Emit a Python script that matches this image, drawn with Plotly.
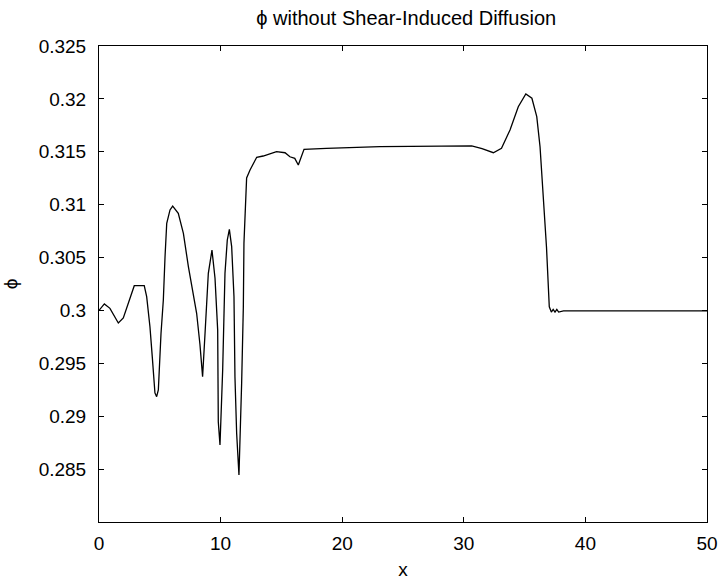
import plotly.graph_objects as go

# Curve
x_vals = [0.0, 0.16, 0.44, 0.9, 1.59, 2.0, 2.41, 2.9, 3.3, 3.72, 3.92, 4.19, 4.38, 4.6, 4.74,
          4.88, 5.1, 5.29, 5.43, 5.57, 5.84, 6.06, 6.52, 6.94, 7.35, 7.76, 8.03, 8.3, 8.52,
          8.72, 8.99, 9.29, 9.54, 9.76, 9.81, 9.95, 10.17, 10.36, 10.55, 10.72, 10.91, 11.1,
          11.18, 11.32, 11.51, 11.73, 11.87, 11.92, 12.09, 12.14, 12.42, 12.97, 13.5, 14.6,
          15.3, 15.7, 16.1, 16.39, 16.86, 18.7, 23.1, 30.65, 31.5, 32.43, 33.1, 33.8, 34.48,
          35.1, 35.6, 36.0, 36.27, 36.54, 36.8, 37.03, 37.2, 37.35, 37.5, 37.65, 37.8, 38.2, 50.0]
phi_vals = [0.3000, 0.30020, 0.30062, 0.30020, 0.29881, 0.29930, 0.30067, 0.30234, 0.30234,
            0.30234, 0.30130, 0.29846, 0.29563, 0.29220, 0.29185, 0.29248, 0.29784, 0.30099,
            0.30508, 0.30824, 0.30950, 0.30987, 0.30918, 0.30729, 0.30414, 0.30162, 0.29973,
            0.29680, 0.29374, 0.29784, 0.30351, 0.30571, 0.30304, 0.29815, 0.28948, 0.28728,
            0.29437, 0.30351, 0.30666, 0.30767, 0.30603, 0.30130, 0.29374, 0.28839, 0.28444,
            0.29311, 0.30035, 0.30635, 0.31107, 0.31252, 0.31328, 0.31448, 0.31460, 0.31501,
            0.31491, 0.31453, 0.31438, 0.31375, 0.31523, 0.31533, 0.31548, 0.31555, 0.31530,
            0.31491, 0.31533, 0.31706, 0.31926, 0.32046, 0.32006, 0.31832, 0.31548, 0.31107,
            0.30600, 0.30035, 0.29985, 0.30010, 0.29985, 0.30010, 0.29985, 0.29995, 0.29995]

x_ticks = [0, 10, 20, 30, 40, 50]
y_ticks = [0.285, 0.29, 0.295, 0.3, 0.305, 0.31, 0.315, 0.32, 0.325]
y_tick_labels = ["0.285", "0.29", "0.295", "0.3", "0.305", "0.31", "0.315", "0.32", "0.325"]

fig = go.Figure()
fig.add_trace(go.Scatter(x=x_vals, y=phi_vals, mode="lines",
                         line=dict(color="black", width=1.3), showlegend=False))

font_family = "Liberation Sans, Arial, sans-serif"
fig.update_layout(
    width=719, height=580,
    margin=dict(l=99, r=12, t=46, b=58),
    paper_bgcolor="white", plot_bgcolor="white",
    font=dict(family=font_family, color="black", size=19),
    title=dict(text="ϕ without Shear-Induced Diffusion", x=0.565, xanchor="center",
               y=1 - 18 / 580, yanchor="middle", font=dict(size=20, family=font_family)),
)
fig.update_xaxes(range=[0, 50], tickvals=x_ticks, ticks="inside", ticklen=5,
                 tickcolor="black", showline=True, linecolor="black", linewidth=1,
                 mirror="ticks", showgrid=False, zeroline=False, ticklabelstandoff=4,
                 automargin=False,
                 title=dict(text="x", font=dict(size=19), standoff=12),
                 tickfont=dict(size=19))
fig.update_yaxes(range=[0.28, 0.325], tickvals=y_ticks, ticktext=y_tick_labels,
                 ticks="inside", ticklen=5, tickcolor="black", showline=True,
                 linecolor="black", linewidth=1, mirror="ticks", showgrid=False,
                 zeroline=False, ticklabelstandoff=8, automargin=False,
                 title=dict(text="ϕ", font=dict(size=19), standoff=20),
                 tickfont=dict(size=19))

fig.write_html(
    "out.html",
    config={"displayModeBar": False},
    post_script="document.body.style.margin='0';document.body.style.overflow='hidden';",
)
